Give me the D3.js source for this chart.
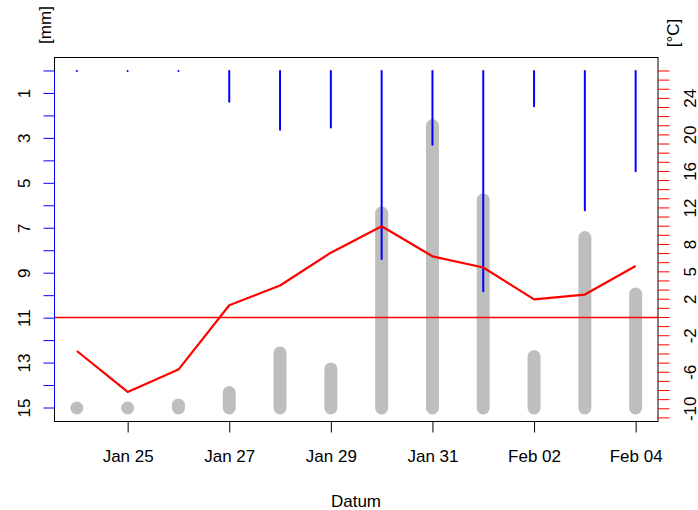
<!DOCTYPE html>
<html>
<head>
<meta charset="utf-8">
<script src="https://cdn.jsdelivr.net/npm/d3@7"></script>
<style>
  html, body { margin: 0; padding: 0; background: #fff; }
  svg { display: block; font-family: "Liberation Sans", Arial, sans-serif; }
</style>
</head>
<body>
<svg id="chart" width="698" height="510"></svg>
<script>
// Daily values, 24 Jan – 04 Feb
const dates = ["2021-01-24","2021-01-25","2021-01-26","2021-01-27","2021-01-28","2021-01-29",
               "2021-01-30","2021-01-31","2021-02-01","2021-02-02","2021-02-03","2021-02-04"];
// precipitation [mm], hanging down from the top of the reversed mm axis
const precip = [0, 0, 0, 1.37, 2.61, 2.51, 8.37, 3.28, 9.80, 1.57, 6.20, 4.46];
// second daily series, rising from the 15 mm baseline (in mm-axis units)
const grayValues = [0, 0, 0.13, 0.69, 2.45, 1.74, 8.68, 12.57, 9.26, 2.29, 7.59, 5.07];
// mean air temperature [°C]
const temperature = [-3.67, -8.16, -5.71, 1.34, 3.5, 7.1, 9.99, 6.70, 5.47, 1.99, 2.51, 5.64];

const mmTicks = d3.range(0, 16);
const mmLabels = [1, 3, 5, 7, 9, 11, 13, 15];
const tempTicks = d3.range(-11, 28);
const tempLabels = [-10, -6, -2, 2, 5, 8, 12, 16, 20, 24];
const xTickDates = ["2021-01-25","2021-01-27","2021-01-29","2021-01-31","2021-02-02","2021-02-04"];

const parse = d3.timeParse("%Y-%m-%d");
const days = dates.map(parse);

const svg = d3.select("#chart");
const plot = { left: 54.5, right: 658, top: 57.5, bottom: 421.5 };
const font = 17;

const dayMs = 864e5;
const pad = 0.44 * dayMs;
const x = d3.scaleTime()
  .domain([new Date(+days[0] - pad), new Date(+days[days.length - 1] + pad)])
  .range([plot.left, plot.right]);

// reversed mm axis: 0 at top, 15 at bottom
const y = d3.scaleLinear().domain([-0.6, 15.6]).range([plot.top, plot.bottom]);
// temperature axis laid over the same panel
const yT = d3.scaleLinear().domain([-11, 27]).range([y(15.44), y(0)]);

// gray columns
svg.append("g").attr("class", "columns").selectAll("line").data(days).join("line")
  .attr("x1", d => x(d)).attr("x2", d => x(d))
  .attr("y1", y(15))
  .attr("y2", (d, i) => y(15 - grayValues[i]))
  .attr("stroke", "#bebebe").attr("stroke-width", 13).attr("stroke-linecap", "round");

// precipitation lines
svg.append("g").attr("class", "precip").selectAll("line").data(days).join("line")
  .attr("x1", d => x(d)).attr("x2", d => x(d))
  .attr("y1", y(0))
  .attr("y2", (d, i) => y(precip[i]))
  .attr("stroke", "#0000ff").attr("stroke-width", 2).attr("stroke-linecap", "round");

// 0 °C reference, across the whole panel
svg.append("line").attr("class", "zero-line")
  .attr("x1", plot.left).attr("x2", plot.right)
  .attr("y1", yT(0)).attr("y2", yT(0))
  .attr("stroke", "#ff0000").attr("stroke-width", 1.3);

// temperature curve
svg.append("path")
  .datum(days)
  .attr("d", d3.line().x(d => x(d)).y((d, i) => yT(temperature[i])))
  .attr("fill", "none").attr("stroke", "#ff0000").attr("stroke-width", 2.2)
  .attr("stroke-linejoin", "round");

// frame
svg.append("rect")
  .attr("x", plot.left).attr("y", plot.top)
  .attr("width", plot.right - plot.left).attr("height", plot.bottom - plot.top)
  .attr("fill", "none").attr("stroke", "#000").attr("stroke-width", 1);

// left mm axis
const gl = svg.append("g").attr("transform", `translate(${plot.left},0)`);
gl.append("line").attr("y1", y(0)).attr("y2", y(15)).attr("stroke", "#0000ff");
gl.selectAll(".tk").data(mmTicks).join("line").attr("class", "tk")
  .attr("x1", -11).attr("x2", 0)
  .attr("y1", d => y(d)).attr("y2", d => y(d))
  .attr("stroke", "#0000ff");
gl.selectAll("text").data(mmLabels).join("text")
  .attr("transform", d => `translate(${24 - plot.left},${y(d)}) rotate(-90)`)
  .attr("text-anchor", "middle").attr("dy", "0.35em")
  .attr("font-size", font).attr("fill", "#000")
  .text(d => d);

// right temperature axis
const gr = svg.append("g").attr("transform", `translate(${plot.right},0)`);
gr.selectAll(".tk").data(tempTicks).join("line").attr("class", "tk")
  .attr("x1", 0).attr("x2", 11.5)
  .attr("y1", d => yT(d)).attr("y2", d => yT(d))
  .attr("stroke", "#ff0000");
gr.selectAll("text").data(tempLabels).join("text")
  .attr("transform", d => `translate(${690 - plot.right},${yT(d)}) rotate(-90)`)
  .attr("text-anchor", "middle").attr("dy", "0.35em")
  .attr("font-size", font).attr("fill", "#000")
  .text(d => d);

// bottom date axis
const xAxis = d3.axisBottom(x)
  .tickValues(xTickDates.map(parse))
  .tickFormat(d3.timeFormat("%b %d"))
  .tickSize(11).tickPadding(17);
const gx = svg.append("g").attr("transform", `translate(0,${plot.bottom})`).call(xAxis);
gx.select(".domain").remove();
gx.selectAll("text").attr("font-size", font).attr("font-family", null).attr("fill", "#000");
gx.selectAll("line").attr("stroke", "#000");

// axis titles
svg.append("text").attr("x", 356).attr("y", 507)
  .attr("text-anchor", "middle").attr("font-size", font).text("Datum");
svg.append("text").attr("transform", "translate(45,25) rotate(-90)")
  .attr("text-anchor", "middle").attr("dy", "0.35em").attr("font-size", font).text("[mm]");
svg.append("text").attr("transform", "translate(673,33) rotate(-90)")
  .attr("text-anchor", "middle").attr("dy", "0.35em").attr("font-size", font).text("[°C]");
</script>
</body>
</html>
